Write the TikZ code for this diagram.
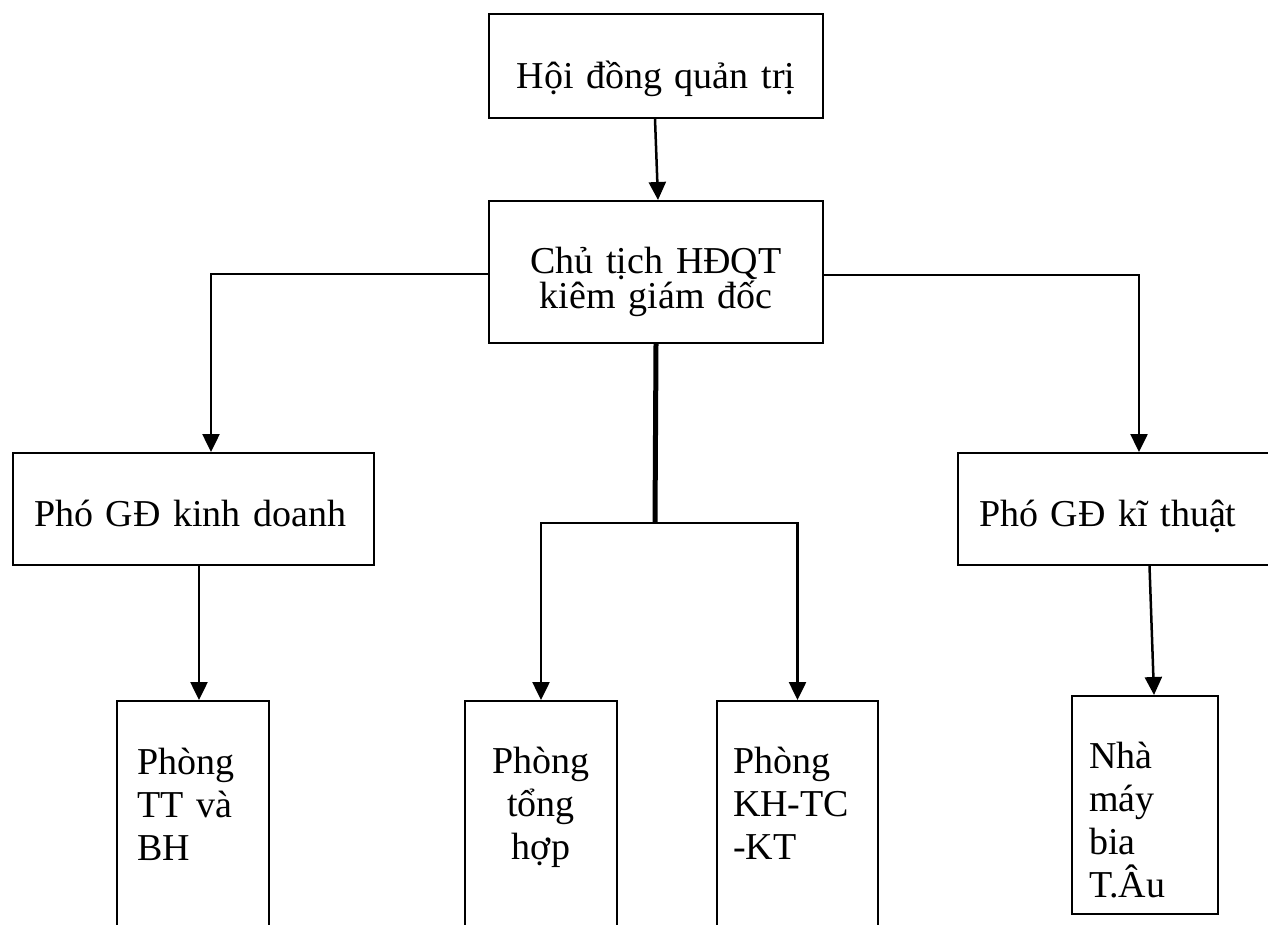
\documentclass[tikz,border=0pt]{standalone}
\usepackage{fontspec}
\setmainfont[WordSpace=0.75]{Liberation Serif}
\usetikzlibrary{arrows.meta}

\begin{document}
\begin{tikzpicture}[
    x=1pt, y=-1pt,
    font=\fontsize{38}{43}\selectfont,
    box/.style={rectangle, draw, line width=2pt, anchor=north west, inner ysep=0pt},
    arrow/.style={line width=2.5pt, -{Triangle[length=18pt, width=17pt]}}
]
\useasboundingbox (0,0) rectangle (1268,924);
\clip (0,0) rectangle (1268,924);

\node[box, inner xsep=0pt, text width=334pt, align=center, text height=74pt, text depth=30pt] (hdqt) at (488,13) {Hội đồng quản trị};
\node[box, inner xsep=0pt, text width=334pt, align=center, text height=72pt, text depth=70pt, font=\fontsize{38}{35}\selectfont] (chutich) at (488,200) {Chủ tịch HĐQT\\kiêm giám đốc};
\node[box, inner xsep=21pt, text width=319pt, align=left, text height=73pt, text depth=39pt] (pgdkd) at (12,452) {Phó GĐ kinh doanh};
\node[box, inner xsep=21pt, text width=320pt, align=left, text height=73pt, text depth=39pt] (pgdkt) at (957,452) {Phó GĐ kĩ thuật};
\node[box, inner xsep=20pt, text width=112pt, align=left, text height=73pt, text depth=250pt] (tt) at (116,700) {Phòng\\TT và\\BH};
\node[box, inner xsep=0pt, text width=152pt, align=center, text height=72pt, text depth=250pt] (tonghop) at (464,700) {Phòng\\tổng\\hợp};
\node[box, inner xsep=16pt, text width=129pt, align=left, text height=72pt, text depth=250pt] (khtc) at (716,700) {Phòng\\KH-TC\\-KT};
\node[box, inner xsep=17pt, text width=112pt, align=left, text height=72pt, text depth=146pt] (nhamay) at (1071,695) {Nhà\\máy\\bia\\T.Âu};

\draw[arrow] ([xshift=-1pt]hdqt.south) -- ([xshift=2pt]chutich.north);
\draw[arrow] ([yshift=-2pt]chutich.west) -| ([xshift=17.5pt]pgdkd.north);
\draw[arrow] ([yshift=-3pt]chutich.east) -| (pgdkt.north);

\coordinate (split) at (655,523);
\draw[line width=5pt] (chutich.south) -- (split);
\draw[arrow] (split) -| (tonghop.north);
\draw[arrow] (split) -| (khtc.north);

\draw[arrow] ([xshift=5.5pt]pgdkd.south) -- ([xshift=6pt]tt.north);
\draw[arrow] ([xshift=10.5pt]pgdkt.south) -- ([xshift=9pt]nhamay.north);
\end{tikzpicture}
\end{document}
